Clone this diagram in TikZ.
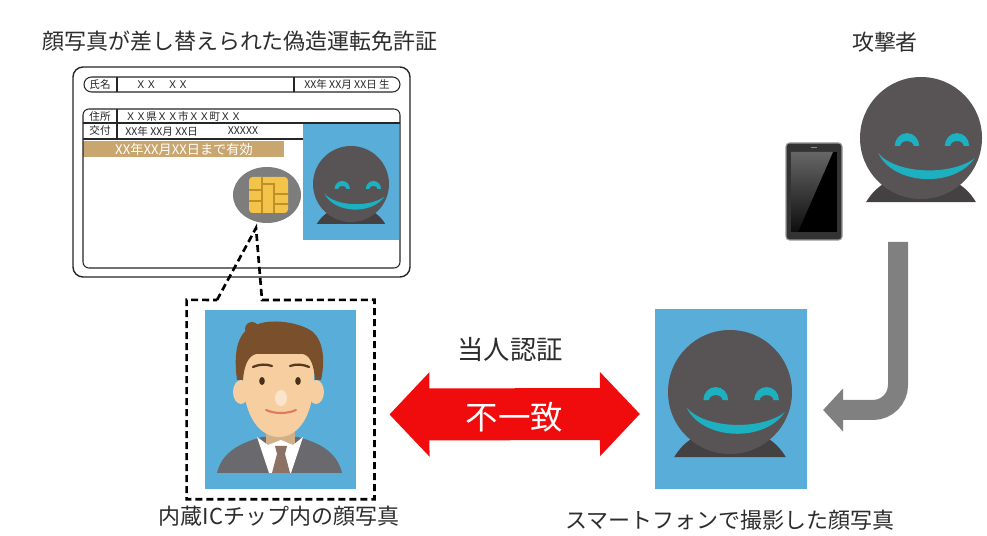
\documentclass[tikz,border=0pt]{standalone}
\usepackage{fontspec}
\setmainfont{Noto Sans CJK JP}
\usepackage{tikz}
\usetikzlibrary{arrows.meta}
\usetikzlibrary{calc}
\usetikzlibrary{fit}
\usetikzlibrary{positioning}

\definecolor{photoblue}{RGB}{88,174,216}
\definecolor{facegray}{RGB}{88,84,85}
\definecolor{basegray}{RGB}{68,65,66}
\definecolor{smilecyan}{RGB}{28,176,192}
\definecolor{bandtan}{RGB}{201,166,112}
\definecolor{chipgray}{RGB}{125,125,125}
\definecolor{chipgold}{RGB}{243,196,73}
\definecolor{chipline}{RGB}{190,145,40}
\definecolor{mismatchred}{RGB}{240,12,12}
\definecolor{arrowgray}{RGB}{128,128,128}
\definecolor{labeltext}{RGB}{45,45,45}
\definecolor{hairbrown}{RGB}{122,80,44}
\definecolor{skin}{RGB}{246,206,160}
\definecolor{suitgray}{RGB}{105,105,110}
\definecolor{tiebrown}{RGB}{140,114,100}

\begin{document}
\begin{tikzpicture}
[
	x = 0.02cm, y = 0.02cm,
	Label/.style	= {font = \fontsize{12.5}{14}\selectfont, text = labeltext, inner sep = 0cm},
	CardText/.style	= {font = \fontsize{6}{7}\selectfont, text = black!85, inner sep = 0cm},
	CardLine/.style	= {draw = black!85, line width = 0.6pt},
	Photo/.style	= {fill = photoblue, minimum width = 3.03cm, minimum height = 3.6cm, inner sep = 0cm},
	Callout/.style	= {draw = black, line width = 1.5pt, dash pattern = on 0.14cm off 0.08cm},
	Mismatch/.style	= {draw = mismatchred, line width = 1.04cm, {Triangle[length = 0.8cm, width = 1.64cm]}-{Triangle[length = 0.8cm, width = 1.64cm]}},
	Capture/.style	= {draw = arrowgray, line width = 0.4cm, rounded corners = 0.5cm, -{Triangle[length = 0.4cm, width = 0.84cm]}},
	smiley/.pic		= {
		\fill [basegray] (-0.9,-1.05) .. controls (-0.75,-0.8) and (-0.5,-0.6) .. (0,-0.6) .. controls (0.5,-0.6) and (0.75,-0.8) .. (0.9,-1.05) -- cycle;
		\fill [facegray] (0,0) circle (1);
		\foreach \ex in {-0.23, 0.59}
			\fill [smilecyan] (\ex-0.2,-0.13) arc [start angle = 180, end angle = 0, x radius = 0.2, y radius = 0.21] -- (\ex+0.11,-0.13) arc [start angle = 0, end angle = 180, x radius = 0.11, y radius = 0.08] -- cycle;
		\fill [smilecyan] (-0.7,-0.25) .. controls (-0.45,-0.78) and (0.55,-0.82) .. (0.88,-0.33) .. controls (0.5,-0.62) and (-0.4,-0.6) .. (-0.7,-0.25) -- cycle;
	},
]

	\path [use as bounding box, fill = white] (0,0) rectangle (987,-536);

	% forged licence card
	\node (cardtitle) [Label] at (240,-41) {顔写真が差し替えられた偽造運転免許証};
	\draw [CardLine, line width = 0.8pt, rounded corners = 0.2cm] (73,-67) rectangle (410,-277);
	\draw [CardLine, rounded corners = 0.15cm] (84,-77) rectangle (400,-92);
	\draw [CardLine] (117,-77) -- (117,-92);
	\draw [CardLine] (294,-77) -- (294,-92);
	\node (namekey)	[CardText] at (100,-84.5) {氏名};
	\node (name)	[CardText] at (162,-84.5) {ＸＸ　ＸＸ};
	\node (birth)	[CardText] at (347,-84.5) {XX年 XX月 XX日 生};

	\fill [photoblue] (303,-124) rectangle (399,-240);
	\fill [bandtan] (83,-141) rectangle (284,-157);
	\draw [CardLine, rounded corners = 0.12cm] (83,-109) rectangle (400,-268);
	\draw [CardLine] (83,-123) -- (400,-123);
	\draw [CardLine] (83,-139) -- (303,-139);
	\draw [CardLine] (117,-109) -- (117,-139);
	\node (addrkey)		[CardText] at (100,-116) {住所};
	\node (addr)		[CardText, anchor = west] at (125,-116) {ＸＸ県ＸＸ市ＸＸ町ＸＸ};
	\node (issuekey)	[CardText] at (100,-131) {交付};
	\node (issue)		[CardText, anchor = west] at (125,-131) {XX年 XX月 XX日};
	\node (issueno)		[CardText] at (243,-131) {XXXXX};
	\node (valid) [font = \fontsize{7.5}{8}\selectfont, text = white, inner sep = 0cm] at (184,-149) {XX年XX月XX日まで有効};

	\pic [scale = 38] at (351,-184) {smiley};

	% IC chip
	\fill [chipgray] (267,-195) ellipse (34 and 28);
	\fill [chipgold, rounded corners = 2pt] (249,-177) rectangle (288,-213);
	\draw [chipline, line width = 0.6pt] (262,-177) -- (262,-213);
	\draw [chipline, line width = 0.6pt] (262,-184) -- (274,-184) -- (274,-213);
	\draw [chipline, line width = 0.6pt] (249,-190) -- (262,-190);
	\draw [chipline, line width = 0.6pt] (249,-201) -- (262,-201);
	\draw [chipline, line width = 0.6pt] (274,-194) -- (288,-194);
	\draw [chipline, line width = 0.6pt] (274,-204) -- (288,-204);
	\coordinate (chipbottom) at (256,-228);

	% photo stored in the chip
	\node (chipphoto) [Photo] at (280.5,-399.5) {};
	\node (dashbox) [fit = (chipphoto), inner xsep = 0.35cm, inner ysep = 0.18cm] {};
	\fill [suitgray] (217,-473) .. controls (222,-452) and (240,-443) .. (262,-437) -- (298,-437) .. controls (320,-443) and (337,-452) .. (342,-473) -- cycle;
	\fill [skin!85!black] (266,-415) rectangle (295,-445);
	\fill [white] (257,-437) -- (268,-445) -- (281,-440) -- (293,-445) -- (303,-437) -- (291,-473) -- (269,-473) -- cycle;
	\fill [tiebrown] (275,-446) -- (287,-446) -- (285,-454) -- (277,-454) -- cycle;
	\fill [tiebrown] (277,-454) -- (285,-454) -- (290,-473) -- (272,-473) -- cycle;
	\fill [skin] (241,-392) ellipse (8 and 12);
	\fill [skin] (316,-392) ellipse (8 and 12);
	\fill [skin] (243,-345) -- (243,-375) .. controls (243,-420) and (262,-437) .. (279,-437) .. controls (296,-437) and (314,-420) .. (314,-375) -- (314,-345) -- cycle;
	\fill [hairbrown] (237,-380) .. controls (233,-350) and (238,-330) .. (256,-325) .. controls (270,-318) and (300,-322) .. (313,-332) .. controls (324,-342) and (325,-362) .. (321,-380) -- (315,-380) .. controls (314,-366) and (311,-356) .. (303,-354) -- (256,-354) .. controls (248,-356) and (244,-366) .. (243,-380) -- cycle;
	\fill [hairbrown] (252,-329) circle (7);
	\draw [hairbrown!70!black, line width = 1.3pt, line cap = round] (253,-367) .. controls (260,-364) and (266,-364) .. (272,-366);
	\draw [hairbrown!70!black, line width = 1.3pt, line cap = round] (290,-366) .. controls (296,-364) and (302,-364) .. (309,-367);
	\fill [hairbrown!60!black] (262,-381) ellipse (2.8 and 4);
	\fill [hairbrown!60!black] (298,-381) ellipse (2.8 and 4);
	\fill [skin!55!white] (281,-398) ellipse (6 and 8);
	\draw [red!35!skin!90!black, line width = 1.2pt, line cap = round] (266,-410) .. controls (275,-414) and (287,-414) .. (296,-410);

	\draw [Callout] (217,-300) -- (chipbottom) -- (262,-300) -- (dashbox.north east) -- (dashbox.south east) -- (dashbox.south west) -- (dashbox.north west) -- cycle;
	\node (chiplabel) [Label] at (279,-516) {内蔵ICチップ内の顔写真};

	% attacker with smartphone
	\node (attackerlabel) [Label] at (885,-42) {攻撃者};
	\pic [scale = 61] at (921,-138) {smiley};
	\coordinate (attacker) at (898,-242);
	\draw [fill = black!80, draw = black!40, line width = 0.6pt, rounded corners = 2pt] (786,-143) rectangle (842,-240);
	\fill [black] (791,-152) rectangle (837,-232);
	\shade [top color = black!60, bottom color = black!95] (791,-152) -- (833,-152) -- (798,-232) -- (791,-232) -- cycle;
	\fill [black!45] (811,-147) rectangle (817,-148.5);

	% photo taken with the smartphone
	\node (selfie) [Photo] at (731,-399) {};
	\pic [scale = 62] at (730,-392) {smiley};
	\node (selfielabel) [Label] at (730,-520) {スマートフォンで撮影した顔写真};

	\draw [Capture] (attacker) |- ([xshift = 0.32cm, yshift = -0.22cm]selfie.east);

	% face comparison
	\node (checklabel) [Label, font = \fontsize{15}{17}\selectfont] at (510,-350) {当人認証};
	\draw [Mismatch] ([xshift = 0.3cm, yshift = -0.3cm]dashbox.east) -- ([xshift = -0.3cm, yshift = -0.3cm]selfie.west) node (result) [midway, yshift = -0.05cm, text = white, font = \fontsize{18.5}{20}\selectfont] {不一致};

\end{tikzpicture}
\end{document}
